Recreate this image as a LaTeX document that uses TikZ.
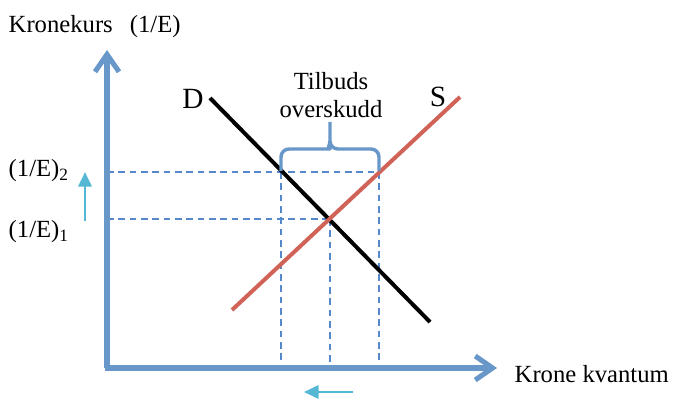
\documentclass[tikz,border=0pt]{standalone}
\usepackage{fontspec}
\setmainfont{Liberation Serif}
\usetikzlibrary{arrows.meta,calc}
\definecolor{axisblue}{RGB}{104,152,202}
\definecolor{dashblue}{RGB}{86,136,204}
\definecolor{supplyred}{RGB}{208,98,88}
\definecolor{shiftcyan}{RGB}{84,184,212}

\begin{document}
\begin{tikzpicture}[x=0.75pt, y=-0.75pt, font=\fontsize{18.5}{22}\selectfont]

  % --- Canvas ---
  \useasboundingbox (0,0) rectangle (677,399);

  % --- Styles ---
  \tikzset{
    axisline/.style={axisblue, line width=3.8pt, -{Straight Barb[length=13pt, width=18pt, line width=3.8pt]}},
    guide/.style={dashblue, line width=0.9pt, dash pattern=on 5pt off 3.5pt},
    shiftarrow/.style={shiftcyan, line width=2pt, -{Triangle[length=11pt, width=10pt]}},
    bracket/.style={axisblue, line width=2.6pt, line join=round},
    curvelabel/.style={font=\fontsize{22}{26}\selectfont}
  }

  % --- Key points ---
  \coordinate (O) at (107,368);
  \coordinate (ytop) at (107,50);
  \coordinate (xend) at (497,368);
  \coordinate (Dstart) at (210,98);
  \coordinate (Dend) at (430,322);
  \coordinate (Sstart) at (232,310);
  \coordinate (Send) at (460,97);
  \coordinate (eq) at (330,219);
  \coordinate (Dtwo) at (281,172);
  \coordinate (Stwo) at (379,172);
  \coordinate (ytwo) at (107,172);
  \coordinate (yone) at (107,219);

  % --- Guide lines ---
  \draw[guide] (ytwo) -- (Stwo);
  \draw[guide] (yone) -- (eq);
  \draw[guide] (Dtwo) -- (Dtwo |- O);
  \draw[guide] (eq) -- (eq |- O);
  \draw[guide] (Stwo) -- (Stwo |- O);

  % --- Demand and supply ---
  \draw[black, line width=3pt] (Dstart) -- (Dend);
  \draw[supplyred, line width=3pt] (Sstart) -- (Send);

  % --- Axes ---
  \draw[axisline] (O) -- (ytop);
  \draw[axisline] ($(O)+(-2.5,0)$) -- (xend);

  % --- Surplus bracket ---
  \draw[bracket] ($(Dtwo)+(0,-1)$) [rounded corners=6pt] -- (281,149) -- (322,149)
    [sharp corners] to[out=0, in=-90] (330,141) -- (330,122)
    (330,141) to[out=-90, in=180] (338,149)
    [rounded corners=6pt] -- (379,149) -- ($(Stwo)+(0,-1)$);

  % --- Labels ---
  \node[anchor=west] (ylabel) at (4,27) {Kronekurs\;\, (1/E)};
  \node[anchor=west] (xlabel) at (510,374) {Krone kvantum};
  \node[anchor=west] (ltwo) at (4,171) {(1/E)\textsubscript{2}};
  \node[anchor=west] (lone) at (4,232) {(1/E)\textsubscript{1}};
  \node[curvelabel] (Dlab) at (193,99) {D};
  \node[curvelabel] (Slab) at (438,97) {S};
  \node[align=center, font=\fontsize{18.5}{21}\selectfont] (surplus) at (331,95) {Tilbuds\\overskudd};

  % --- Shift arrows ---
  \coordinate (upfrom) at (85,221);
  \coordinate (upto) at (85,172);
  \coordinate (leftfrom) at (353,392);
  \coordinate (leftto) at (304,392);
  \draw[shiftarrow] (upfrom) -- (upto);
  \draw[shiftarrow] (leftfrom) -- (leftto);

\end{tikzpicture}
\end{document}
